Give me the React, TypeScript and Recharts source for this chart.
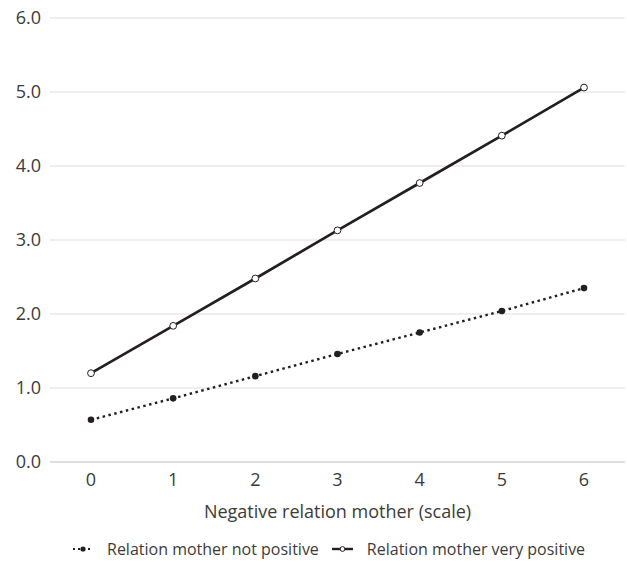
import React from 'react';
import { LineChart, Line, XAxis, YAxis, CartesianGrid, Legend } from 'recharts';

const scalePoints = [0, 1, 2, 3, 4, 5, 6];
const notPositive = [0.57, 0.86, 1.16, 1.46, 1.75, 2.04, 2.35];
const veryPositive = [1.2, 1.84, 2.48, 3.13, 3.77, 4.41, 5.06];
const yTicks = [0, 1, 2, 3, 4, 5, 6];

const data = scalePoints.map((x, i) => ({
  x,
  notPositive: notPositive[i],
  veryPositive: veryPositive[i],
}));

const INK = '#231f20';
const TEXT = '#3b3b3b';
const FONT = '"Open Sans", sans-serif';
const AXIS_FONT = 18;

function LegendContent() {
  return (
    <div style={{ display: 'flex', alignItems: 'center', paddingLeft: 72, paddingTop: 18, fontFamily: FONT, fontSize: 16, color: TEXT }}>
      <svg width={22} height={10} style={{ marginRight: 13 }}>
        <line x1={1} y1={5} x2={21} y2={5} stroke={INK} strokeWidth={2.2} strokeDasharray="2 3" />
        <circle cx={11} cy={5} r={2.6} fill={INK} />
      </svg>
      <span>Relation mother not positive</span>
      <svg width={21} height={10} style={{ marginLeft: 13, marginRight: 14 }}>
        <line x1={0} y1={5} x2={21} y2={5} stroke={INK} strokeWidth={2.4} />
        <circle cx={10.5} cy={5} r={2.4} fill="#fff" stroke={INK} strokeWidth={1} />
      </svg>
      <span>Relation mother very positive</span>
    </div>
  );
}

export default function App() {
  return (
    <div style={{ position: 'absolute', left: 0, top: 0, background: '#fff' }}>
      <LineChart width={627} height={564} data={data} margin={{ top: 18, right: 2, left: 0, bottom: 0 }}>
        <CartesianGrid vertical={false} stroke="#e9e9e9" strokeWidth={1.3} />
        <XAxis
          dataKey="x"
          type="category"
          padding={{ left: 41, right: 41 }}
          height={58}
          axisLine={{ stroke: '#d9d9d9', strokeWidth: 1.5 }}
          tickLine={false}
          tickMargin={5}
          tick={{ fill: TEXT, fontSize: AXIS_FONT, fontFamily: FONT }}
          label={{ value: 'Negative relation mother (scale)', position: 'insideBottom', offset: 2, fill: TEXT, fontSize: AXIS_FONT, fontFamily: FONT }}
        />
        <YAxis
          type="number"
          domain={[0, 6]}
          ticks={yTicks}
          width={50}
          axisLine={false}
          tickLine={false}
          tickMargin={3}
          tickFormatter={(v: number) => v.toFixed(1)}
          tick={{ fill: TEXT, fontSize: AXIS_FONT, fontFamily: FONT }}
        />
        <Legend verticalAlign="bottom" content={LegendContent} wrapperStyle={{ height: 44, width: 627, left: 0 }} />
        <Line
          dataKey="notPositive"
          name="Relation mother not positive"
          stroke={INK}
          strokeWidth={2.4}
          strokeDasharray="2.5 3.5"
          dot={{ r: 3.3, fill: INK, stroke: 'none', strokeDasharray: '0' }}
          isAnimationActive={false}
        />
        <Line
          dataKey="veryPositive"
          name="Relation mother very positive"
          stroke={INK}
          strokeWidth={2.7}
          dot={{ r: 3.4, fill: '#fff', stroke: INK, strokeWidth: 1, strokeDasharray: '0' }}
          isAnimationActive={false}
        />
      </LineChart>
    </div>
  );
}
